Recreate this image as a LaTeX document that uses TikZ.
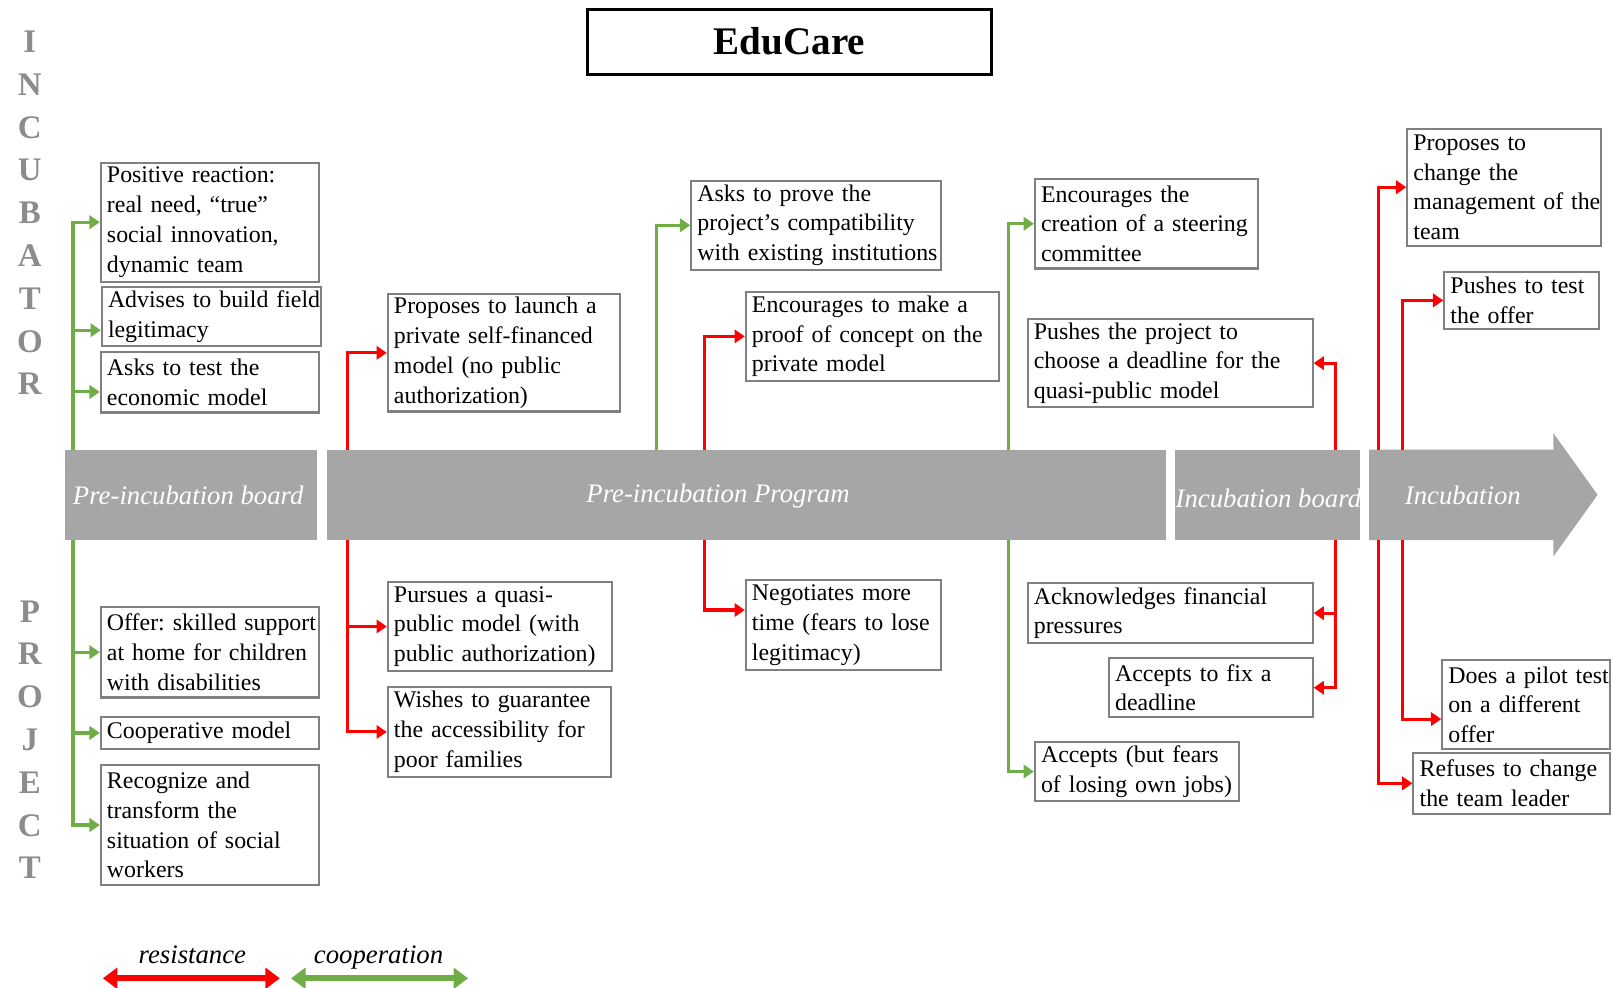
\documentclass[tikz,border=0pt]{standalone}
\usepackage{fontspec}
\setmainfont{Liberation Serif}
\usetikzlibrary{arrows.meta}
\frenchspacing

\definecolor{coopgreen}{RGB}{112,173,71}
\definecolor{resred}{RGB}{255,0,0}
\definecolor{boxgray}{RGB}{128,128,128}
\definecolor{bargray}{RGB}{166,166,166}
\definecolor{lettergray}{RGB}{140,140,140}

\tikzset{
  stmt/.style={draw=boxgray, line width=1pt, anchor=north west, inner xsep=3pt, inner ysep=0.5pt, align=left, font=\fontsize{11.6}{14.5}\selectfont},
  phase/.style={fill=bargray, anchor=north west, inner sep=0pt, minimum height=44pt},
  phaselabel/.style={text=white, inner sep=0.75pt, font=\fontsize{13}{15}\selectfont\itshape},
  sideword/.style={text=lettergray, align=center, inner sep=0.75pt, font=\fontsize{16}{20.8}\selectfont\bfseries},
  legendlabel/.style={anchor=base, inner sep=0.75pt, font=\fontsize{13}{15}\selectfont\itshape},
  coop/.style={draw=coopgreen, line width=1.5pt, -{Triangle[length=5pt,width=6.5pt]}},
  resist/.style={draw=resred, line width=1.5pt, -{Triangle[length=5pt,width=6.5pt]}},
  legarrow/.style={line width=3pt, {Triangle[length=7pt,width=10pt]}-{Triangle[length=7pt,width=10pt]}},
}

\begin{document}
\begin{tikzpicture}[x=0.5pt,y=0.5pt,yscale=-1,xscale=1]
\useasboundingbox (0,0) rectangle (1568,960);

% Title
\node[draw=black, line width=1.4pt, minimum width=196.5pt, minimum height=31.5pt, font=\fontsize{19}{22}\selectfont\bfseries] (title) at (767.5,40.5) {EduCare};

% Side words
\node[sideword] (incubator) at (29,207) {I\\N\\C\\U\\B\\A\\T\\O\\R};
\node[sideword] (project) at (29,719) {P\\R\\O\\J\\E\\C\\T};

%Phases
\node[phase, minimum width=122.5pt] (preboard) at (63,437) {};
\node[phase, minimum width=408pt] (preprog) at (317,437) {};
\node[phase, minimum width=90pt] (incboard) at (1142,437) {};
%Shape: Right Arrow
\fill[bargray] (1331,437) -- (1510,437) -- (1510,421) -- (1553,481) -- (1510,541) -- (1510,525) -- (1331,525) -- cycle;

% Text Node
\node[phaselabel] (preboardlabel) at (183,482) {Pre-incubation board};
% Text Node
\node[phaselabel] (preproglabel) at (698,482) {Pre-incubation Program};
% Text Node
\node[phaselabel] (incboardlabel) at (1233,484) {Incubation board};
% Text Node
\node[phaselabel] (incublabel) at (1422,482) {Incubation};

% Incubator reactions
\node[stmt, text width=100pt, minimum height=58pt] (posreact) at (97,157) {Positive reaction:\\ real need, “true”\\ social innovation,\\ dynamic team};
\node[stmt, text width=100.5pt, minimum height=28.5pt] (fieldlegit) at (98,278) {\mbox{Advises to build field}\\ legitimacy};
\node[stmt, text width=100pt, minimum height=29.5pt] (econmodel) at (97,341) {Asks to test the\\ economic model};
\node[stmt, text width=107pt, minimum height=57pt] (privmodel) at (376,285) {Proposes to launch a\\ private self-financed\\ model (no public\\ authorization)};
\node[stmt, text width=115.5pt, minimum height=43pt] (compat) at (671,175) {Asks to prove the\\ project’s compatibility\\ \mbox{with existing institutions}};
\node[stmt, text width=117pt, minimum height=43pt] (proofconc) at (724,283) {Encourages to make a\\ \mbox{proof of concept on the}\\ private model};
\node[stmt, text width=102.5pt, minimum height=43.5pt] (steering) at (1005,173) {Encourages the\\ \mbox{creation of a steering}\\ committee};
\node[stmt, text width=132.5pt, minimum height=43pt] (deadline) at (998,309) {Pushes the project to\\ choose a deadline for the\\ quasi-public model};
\node[stmt, text width=88pt, minimum height=57pt] (mgmtteam) at (1367,124) {Proposes to\\ change the\\ \mbox{management of the}\\ team};
\node[stmt, text width=69pt, minimum height=28pt] (testoffer) at (1403,263) {Pushes to test\\ the offer};

% Project reactions
\node[stmt, text width=100pt, minimum height=44pt] (offer) at (97,589) {\mbox{Offer: skilled support}\\ \mbox{at home for children}\\ with disabilities};
\node[stmt, text width=100pt, minimum height=15.5pt] (coopmodel) at (97,696) {Cooperative model};
\node[stmt, text width=100pt, minimum height=58pt] (socialwork) at (97,743) {Recognize and\\ transform the\\ situation of social\\ workers};
\node[stmt, text width=103pt, minimum height=43pt] (quasipub) at (376,565) {Pursues a quasi-\\ public model (with\\ \mbox{public authorization)}};
\node[stmt, text width=102.5pt, minimum height=43.5pt] (poorfam) at (376,667) {\mbox{Wishes to guarantee}\\ the accessibility for\\ poor families};
\node[stmt, text width=89pt, minimum height=43.5pt] (moretime) at (724,563) {Negotiates more\\ time (fears to lose\\ legitimacy)};
\node[stmt, text width=132.5pt, minimum height=29pt] (financial) at (998,566) {Acknowledges financial\\ pressures};
\node[stmt, text width=93pt, minimum height=28.5pt] (fixdeadline) at (1077,639) {Accepts to fix a\\ deadline};
\node[stmt, text width=93pt, minimum height=29pt] (ownjobs) at (1005,720) {\mbox{Accepts (but fears}\\ \mbox{of losing own jobs)}};
\node[stmt, text width=75.5pt, minimum height=43pt] (pilottest) at (1401,641) {\mbox{Does a pilot test}\\ on a different\\ offer};
\node[stmt, text width=89.5pt, minimum height=29.5pt] (teamleader) at (1373,731) {\mbox{Refuses to change}\\ the team leader};

% Trunk ends on the phase bar
\coordinate (gBoardTop) at (71,437);
\coordinate (gBoardBot) at (71,525);
\coordinate (rLaunchTop) at (338,437);
\coordinate (rLaunchBot) at (338,525);
\coordinate (gCompatTop) at (638,437);
\coordinate (rProofTop) at (685,437);
\coordinate (rProofBot) at (685,525);
\coordinate (gSteerTop) at (980,437);
\coordinate (gSteerBot) at (980,525);
\coordinate (rDeadTop) at (1298,437);
\coordinate (rDeadBot) at (1298,525);
\coordinate (rMgmtTop) at (1340,437);
\coordinate (rMgmtBot) at (1340,525);
\coordinate (rTestTop) at (1363,437);
\coordinate (rTestBot) at (1363,525);

%Straight Lines
\draw[coop] (gBoardTop) |- (posreact.west);
\draw[coop] (gBoardTop) |- ([yshift=6.75pt]fieldlegit.west);
\draw[coop] (gBoardTop) |- ([yshift=4.75pt]econmodel.west);
\draw[coop] (gBoardBot) |- (offer.west);
\draw[coop] (gBoardBot) |- (coopmodel.west);
\draw[coop] (gBoardBot) |- (socialwork.west);
%Straight Lines
\draw[resist] (rLaunchTop) |- (privmodel.west);
\draw[resist] (rLaunchBot) |- (quasipub.west);
\draw[resist] (rLaunchBot) |- (poorfam.west);
%Straight Lines
\draw[coop] (gCompatTop) |- (compat.west);
\draw[resist] (rProofTop) |- (proofconc.west);
\draw[resist] (rProofBot) |- ([yshift=-7.25pt]moretime.west);
%Straight Lines
\draw[coop] (gSteerTop) |- (steering.west);
\draw[coop] (gSteerBot) |- (ownjobs.west);
\draw[resist] (rDeadTop) |- (deadline.east);
\draw[resist] (rDeadBot) |- (financial.east);
\draw[resist] (rDeadBot) |- (fixdeadline.east);
%Straight Lines
\draw[resist] (rMgmtTop) |- (mgmtteam.west);
\draw[resist] (rMgmtBot) |- (teamleader.west);
\draw[resist] (rTestTop) |- (testoffer.west);
\draw[resist] (rTestBot) |- ([yshift=7pt]pilottest.west);

% Legend
\node[legendlabel] (reslabel) at (187,937) {resistance};
\node[legendlabel] (cooplabel) at (368,937) {cooperation};
\coordinate (resL) at (100,951);
\coordinate (resR) at (272,951);
\coordinate (coopL) at (283,951);
\coordinate (coopR) at (455,951);
\draw[legarrow, draw=resred] (resL) -- (resR);
\draw[legarrow, draw=coopgreen] (coopL) -- (coopR);

\end{tikzpicture}
\end{document}
